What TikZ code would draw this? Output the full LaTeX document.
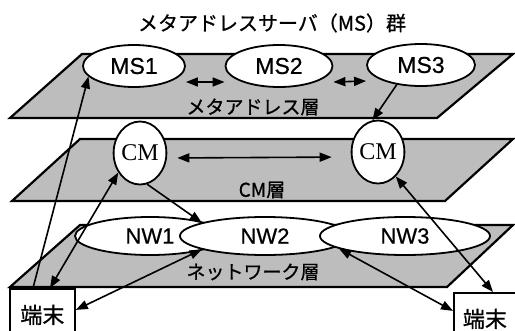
\documentclass[tikz,border=0pt]{standalone}
\usepackage{fontspec}
\usetikzlibrary{arrows.meta,shapes.geometric}
\newfontfamily\jpfont[FakeBold=0.8]{Noto Sans CJK JP}
\newfontfamily\latinsans[FakeBold=0.6]{Liberation Sans}
\newfontfamily\latinserif{Liberation Serif}

\begin{document}
\begin{tikzpicture}[x=1pt,y=-1pt,
  layerplane/.style={draw=black, line width=2.2pt, fill=black!26, line join=miter},
  srv/.style={ellipse, draw=black, line width=1.8pt, fill=white, inner sep=0pt,
    font=\latinsans\fontsize{23}{26}\selectfont},
  cmnode/.style={ellipse, draw=black, line width=1.8pt, fill=white, inner sep=0pt,
    minimum width=41pt, minimum height=63pt,
    font=\latinserif\fontsize{24}{27}\selectfont},
  nwnode/.style={ellipse, draw=black, line width=1.8pt, fill=white, inner sep=0pt,
    minimum width=170pt, minimum height=38pt,
    font=\latinsans\fontsize{22}{25}\selectfont},
  layerlabel/.style={font=\jpfont\fontsize{19}{22}\selectfont, inner sep=0pt},
  titlelabel/.style={font=\jpfont\fontsize{20}{24}\selectfont, inner sep=0pt},
  termbox/.style={draw=black, line width=1.8pt, fill=white, anchor=north west,
    minimum height=52pt, font=\jpfont\fontsize{22}{25}\selectfont},
  conn/.style={line width=1.6pt, -{Triangle[length=12pt,width=9pt]}},
  dconn/.style={line width=1.6pt, {Triangle[length=12pt,width=9pt]}-{Triangle[length=12pt,width=9pt]}}]

% fixed frame; everything outside it is cut away
\useasboundingbox (0,0) rectangle (515,330);
\clip (0,0) rectangle (515,330);
\fill[white] (0,0) rectangle (515,330);

% title
\node[titlelabel] (title) at (272,23) {メタアドレスサーバ（MS）群};

% the three layers
\draw[layerplane] (82,54) -- (513,54) -- (437,118) -- (10,118) -- cycle;
\draw[layerplane] (80,139) -- (513,139) -- (445,201) -- (12,201) -- cycle;
\draw[layerplane] (80,225) -- (513,225) -- (447,287) -- (10,287) -- cycle;

\node[layerlabel] (lmeta) at (253,107) {メタアドレス層};
\node[layerlabel] (lcm) at (262,190) {CM層};
\node[layerlabel] (lnw) at (253,272) {ネットワーク層};

% meta address servers
\node[srv, minimum width=102pt, minimum height=42pt] (ms1) at (134,66) {MS1};
\node[srv, minimum width=107pt, minimum height=42pt] (ms2) at (279,66) {MS2};
\node[srv, minimum width=108pt, minimum height=42pt] (ms3) at (421,65) {MS3};

% CM nodes
\node[cmnode] (cm1) at (140,153) {CM};
\node[cmnode] (cm2) at (378,152) {CM};

% networks
\node[nwnode, minimum width=150pt] (nw1) at (150,236) {NW1};
\node[nwnode] (nw2) at (265,236) {NW2};
\node[nwnode] (nw3) at (405,236) {NW3};

% terminals
\node[termbox, minimum width=65pt] (t1) at (9,288) {端末};
\node[termbox, minimum width=80pt, text width=62pt, align=left, inner xsep=0pt] (t2) at (453,292) {端末};

% connections
\draw[dconn] ([yshift=-16pt]ms1.east) -- ([yshift=-16pt]ms2.west);
\draw[dconn] ([yshift=-16pt]ms2.east) -- ([yshift=-16pt]ms3.west);
\draw[dconn, shorten <=10pt, shorten >=19pt] ([yshift=-5pt]cm1.east) -- ([yshift=-5pt]cm2.west);

\draw[conn] ([xshift=24pt]t1.north west) -- (ms1.193);
\draw[conn] (ms3.219) -- (cm2.100);
\draw[dconn] (cm1.222) -- ([xshift=41pt]t1.north west);
\draw[conn] (cm1.283) -- (nw2.168);
\draw[dconn] (cm2.306) -- ([xshift=40pt]t2.north west);
\draw[dconn] ([yshift=5pt]t1.east) -- (nw2.192);
\draw[dconn] (nw3.191) -- ([yshift=8pt]t2.west);
\end{tikzpicture}
\end{document}
